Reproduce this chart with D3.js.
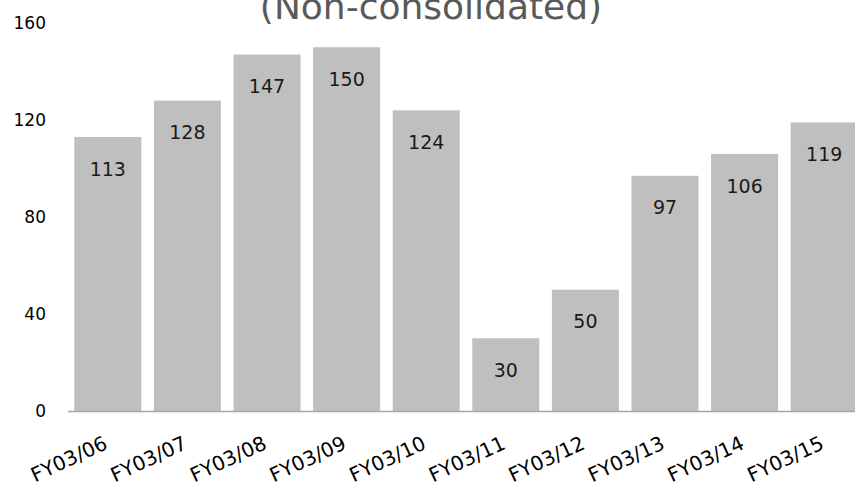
<!DOCTYPE html>
<html><head><meta charset="utf-8">
<script src="https://cdn.jsdelivr.net/npm/d3@7"></script>
<style>body{margin:0;background:#fff}svg{display:block}text{font-family:"DejaVu Sans",Verdana,sans-serif}</style>
</head><body>
<svg id="c" width="855" height="488"></svg>
<script>
const categories = ["FY03/06","FY03/07","FY03/08","FY03/09","FY03/10","FY03/11","FY03/12","FY03/13","FY03/14","FY03/15"];
const values = [113,128,147,150,124,30,50,97,106,119];
const yTicks = [0,40,80,120,160];
const title = "(Non-consolidated)";

const svg = d3.select("#c");
const x = d3.scaleBand().domain(categories).range([68,864]).paddingInner(0.158).paddingOuter(0.079);
const y = d3.scaleLinear().domain([0,160]).range([411,23]);

svg.append("text").attr("x",431).attr("y",19).attr("text-anchor","middle")
  .attr("font-size",36).attr("fill","#595959").text(title);

svg.selectAll("text.yt").data(yTicks).enter().append("text").attr("class","yt")
  .attr("x",46).attr("y",d=>y(d)).attr("dy","0.35em").attr("text-anchor","end")
  .attr("font-size",17).attr("fill","#000").text(d=>d);

svg.selectAll("rect.bar").data(values).enter().append("rect").attr("class","bar")
  .attr("x",(d,i)=>x(categories[i])).attr("width",x.bandwidth())
  .attr("y",d=>y(d)).attr("height",d=>y(0)-y(d)).attr("fill","#bfbfbf");

svg.append("line").attr("x1",68).attr("x2",855).attr("y1",y(0)+0.5).attr("y2",y(0)+0.5)
  .attr("stroke","#a6a6a6").attr("stroke-width",1.5);

svg.selectAll("text.vl").data(values).enter().append("text").attr("class","vl")
  .attr("x",(d,i)=>x(categories[i])+x.bandwidth()/2).attr("y",d=>y(d)+32).attr("dy","0.35em")
  .attr("text-anchor","middle").attr("font-size",19).attr("fill","#1a1a1a").text(d=>d);

svg.selectAll("text.xl").data(categories).enter().append("text").attr("class","xl")
  .attr("transform",d=>`translate(${x(d)+x.bandwidth()/2+1},${448}) rotate(-25)`)
  .attr("text-anchor","end").attr("font-size",20).attr("fill","#000").text(d=>d);
</script>
</body></html>
